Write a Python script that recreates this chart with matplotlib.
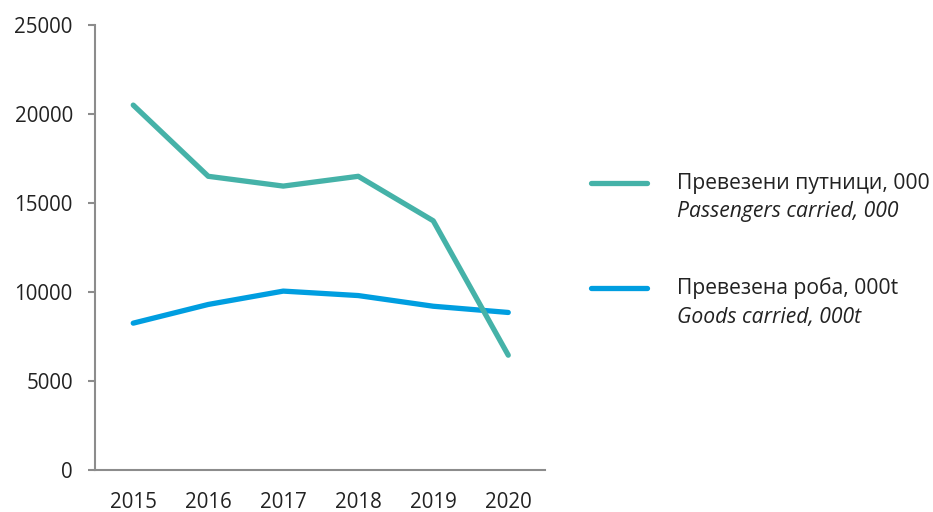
import matplotlib
matplotlib.use('Agg')
import matplotlib.pyplot as plt
from matplotlib.lines import Line2D

years = ['2015', '2016', '2017', '2018', '2019', '2020']
passengers = [20500, 16500, 15950, 16500, 14000, 6450]
goods = [8250, 9300, 10050, 9800, 9200, 8850]
yticks = [0, 5000, 10000, 15000, 20000, 25000]

teal = '#45b2a8'
blue = '#009ee0'
axcol = '#8c8c8c'
txt = '#222222'

plt.rcParams['font.family'] = ['Open Sans', 'DejaVu Sans']

fig = plt.figure(figsize=(9.33, 5.12), dpi=100)
ax = fig.add_axes([95 / 933, 1 - 470 / 512, 450 / 933, 445 / 512])

x = list(range(len(years)))
ax.plot(x, goods, color=blue, lw=3.8, solid_capstyle='round', solid_joinstyle='round')
ax.plot(x, passengers, color=teal, lw=3.8, solid_capstyle='round', solid_joinstyle='round')

ax.set_xlim(-0.51, 5.49)
ax.set_ylim(0, 25000)
ax.set_xticks(x)
ax.set_xticklabels(years)
ax.set_yticks(yticks)
ax.set_yticklabels([str(v) for v in yticks])

for s in ['top', 'right']:
    ax.spines[s].set_visible(False)
for s in ['left', 'bottom']:
    ax.spines[s].set_color(axcol)
    ax.spines[s].set_linewidth(1.5)
ax.tick_params(axis='y', length=5, width=1.5, color=axcol, pad=11, labelsize=14.8, labelcolor=txt)
ax.tick_params(axis='x', length=0, pad=16, labelsize=14.8, labelcolor=txt)

# legend drawn by hand (two-line labels, second line italic)
entries = [
    (teal, 'Превезени путници, 000', 'Passengers carried, 000', 183),
    (blue, 'Превезена роба, 000t', 'Goods carried, 000t', 288),
]
for col, l1, l2, ypx in entries:
    yf = 1 - ypx / 512
    fig.add_artist(Line2D([591 / 933, 647 / 933], [yf, yf], color=col, lw=3.8,
                          solid_capstyle='round', transform=fig.transFigure))
    fig.text(677 / 933, yf, l1, fontsize=15.2, color=txt, va='center', ha='left')
    fig.text(677 / 933, 1 - (ypx + 29) / 512, l2, fontsize=15.2, color=txt,
             va='center', ha='left', style='italic')

fig.savefig('out.png', dpi=100)
